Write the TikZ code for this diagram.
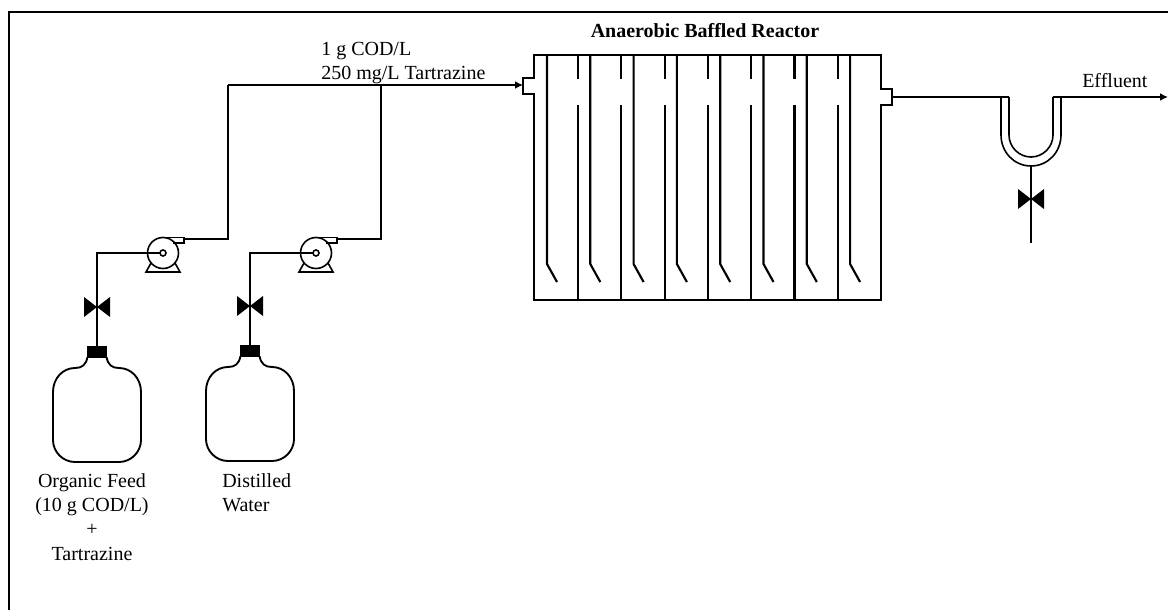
\documentclass[tikz,border=0pt]{standalone}
\usepackage{fontspec}
\setmainfont{Liberation Serif}
\usetikzlibrary{arrows.meta,calc}
\tikzset{
    pipe/.style={line width=1.2pt,black},
    mainpipe/.style={line width=1.7pt,black},
    wall/.style={line width=1.6pt,black},
    lbl/.style={font=\fontsize{15}{18.3}\selectfont,inner sep=0pt},
    tip/.style={-{Latex[length=6pt,width=6pt]}}
}
\newcommand{\valvesym}[1]{%
    \fill (#1) ++(-13,-10) -- ++(26,20) -- ++(0,-20) -- ++(-26,20) -- cycle;}
\begin{document}
\begin{tikzpicture}[x=0.75pt,y=-0.75pt]
    \useasboundingbox (0,0) rectangle (1168,610);
    % Frame
    \draw[line width=1.9pt] (9,610) -- (9,12) -- (1168,12);

    % Bottles, valves, pumps
    \foreach \i/\x/\y in {1/97/0,2/250/-1} {
        \begin{scope}[shift={(\x,\y)}]
            \coordinate (cap\i) at (0,346);
            \coordinate (valve\i) at (0,307);
            \fill (-10,346) rectangle (10,358);
            \draw[pipe,line width=1.4pt] (-9.5,357) .. controls (-11,365) and (-15,368) .. (-22,368)
                .. controls (-34,368) and (-44,378) .. (-44,392) -- (-44,440)
                .. controls (-44,452) and (-34,462) .. (-22,462) -- (22,462)
                .. controls (34,462) and (44,452) .. (44,440) -- (44,392)
                .. controls (44,378) and (34,368) .. (22,368)
                .. controls (15,368) and (11,365) .. (9.5,357);
            \valvesym{valve\i}
        \end{scope}
    }
    \foreach \i/\x in {1/163,2/316} {
        \begin{scope}[shift={(\x,253)}]
            \coordinate (pump\i) at (0,0);
            \coordinate (disch\i) at (21,-14);
            \draw[pipe] (0,0) circle (15.5);
            \draw[pipe,fill=white] (0,0) circle (3);
            \draw[pipe] (0,-15.5) -- (21,-15.5) -- (21,-10) -- (10,-10);
            \draw[pipe] (-12,10) -- (-17,19) -- (17,19) -- (12,10);
        \end{scope}
    }

    % Feed lines
    \coordinate (tee1) at (228,85);
    \coordinate (tee2) at (381,85);
    \coordinate (inlet) at (523,85);
    \draw[pipe] (cap1) -- (valve1) |- ($(pump1)+(-3,0)$);
    \draw[pipe] (cap2) -- (valve2) |- ($(pump2)+(-3,0)$);
    \draw[pipe] (disch1) -| (tee1);
    \draw[pipe] (disch2) -| (tee2);
    \draw[mainpipe,tip] (tee1) -- (inlet);

    % Reactor
    \draw[wall] (534,78) -- (534,55) -- (881,55) -- (881,89) -- (892,89) -- (892,105)
        -- (881,105) -- (881,300) -- (534,300) -- (534,94) -- (523,94) -- (523,78) -- cycle;
    \foreach \i in {0,...,7} {
        \draw[wall] (547+\i*43.3,55) -- (547+\i*43.3,264) -- (557+\i*43.3,282);
    }
    \foreach \i in {0,...,6} {
        \draw[wall] (578+\i*43.3,55) -- (578+\i*43.3,79);
        \draw[wall] (578+\i*43.3,105) -- (578+\i*43.3,300);
    }

    % U-tube and effluent
    \coordinate (outlet) at (892,97);
    \coordinate (drain) at (1031,166);
    \coordinate (drainend) at (1031,243);
    \coordinate (valve3) at (1031,199);
    \coordinate (effluent) at (1168,97);
    \draw[pipe] (outlet) -- (1009,97);
    \draw[pipe] (1001,97) -- (1001,135) .. controls (1001,152) and (1014,166) .. (1031,166)
        .. controls (1048,166) and (1061,152) .. (1061,135) -- (1061,97);
    \draw[pipe] (1009,97) -- (1009,135) .. controls (1009,147) and (1019,157) .. (1031,157)
        .. controls (1043,157) and (1053,147) .. (1053,135) -- (1053,97);
    \draw[mainpipe,tip] (1053,97) -- (effluent);
    \draw[pipe] (drain) -- (drainend);
    \valvesym{valve3}

    % Labels
    \node[lbl,align=left,anchor=north west] (flow) at (321,42) {1 g COD/L\\250 mg/L Tartrazine};
    \node[lbl,anchor=center] (title) at (705,31) {\bfseries Anaerobic Baffled Reactor};
    \node[lbl,anchor=west] (efflabel) at (1082,81) {Effluent};
    \node[lbl,align=center,anchor=north] (feed1) at (92,473) {Organic Feed\\(10 g COD/L)\\+\\Tartrazine};
    \node[lbl,align=left,anchor=north west] (feed2) at (222,473) {Distilled\\Water};
\end{tikzpicture}
\end{document}
